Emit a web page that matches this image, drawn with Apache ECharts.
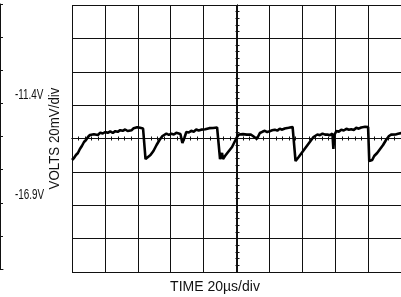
<!DOCTYPE html>
<html>
<head>
<meta charset="utf-8">
<script src="https://cdn.jsdelivr.net/npm/echarts@6/dist/echarts.min.js"></script>
<style>
  html, body { margin: 0; padding: 0; background: #fff; }
  #chart { width: 401px; height: 297px; }
</style>
</head>
<body>
<div id="chart"></div>
<script>
// time in µs (20µs/div), voltage in mV (20mV/div, AC about the centre line)
const traceTime = [
  0, 1.2, 2.4, 3.6, 4.8, 6.0, 7.3, 8.5, 9.7, 10.9, 12.1, 13.3, 14.5, 15.7, 17.2, 18.7, 20.2, 21.7,
  23.2, 24.8, 26.3, 27.8, 29.3, 30.8, 32.3, 33.8, 35.0, 36.3, 37.5, 38.7, 39.6, 40.5, 41.4, 42.3, 43.2, 44.1,
  44.7, 45.9, 47.7, 49.5, 51.4, 53.2, 55.0, 56.2, 57.4, 58.9, 60.4, 61.9, 63.4, 64.6, 65.9, 67.1, 68.3, 69.5,
  71.0, 72.5, 74.0, 75.5, 77.0, 78.5, 79.7, 81.0, 82.2, 83.4, 84.6, 85.8, 87.0, 88.2, 89.4,
  90.0, 91.2, 91.8, 93.0, 94.9, 97.3, 99.1, 100.3, 101.5, 102.7, 103.9, 105.1, 106.3, 107.5, 108.7, 110.0, 112.4,
  114.2, 115.7, 117.2, 118.7, 120.2, 121.7, 123.3, 124.8, 126.3, 127.8, 129.3, 130.5, 131.7, 132.9, 134.1, 135.3,
  135.9, 137.8, 139.6, 141.4, 143.2, 145.0, 146.8, 148.0, 149.2, 150.7, 152.3, 153.8, 155.3, 156.8, 158.3, 158.9,
  159.5, 160.7, 162.2, 163.7, 165.2, 166.8, 168.3, 169.8, 171.3, 172.8, 174.3, 175.8, 177.0, 178.2, 179.1, 180.0,
  180.7, 182.5, 183.7, 185.5, 187.3, 189.1, 190.9, 192.7, 194.0, 195.2, 196.7, 198.2, 200.6
]
const traceMv = [
  -12.9, -11.7, -9.9, -8.7, -6.3, -4.5, -2.1, -0.9, 0.9, 2.1, 2.9, 2.5, 3.1, 2.1, 3.5, 3.0, 3.9, 3.4,
  4.2, 3.3, 4.4, 4.0, 5.0, 4.6, 5.4, 4.5, 5.5, 5.0, 6.2, 5.6, 6.8, 5.7, 6.4, 6.9, 6.0, 6.5,
  -12.3, -11.7, -9.9, -7.5, -3.9, -0.9, 1.5, 2.4, 2.9, 2.2, 2.9, 2.4, 3.4, 2.6, 2.7, -2.7, 0.3, 3.9,
  3.6, 4.6, 4.1, 5.4, 4.8, 5.3, 6.0, 5.5, 6.6, 6.2, 7.0, 6.3, 7.1, 6.6, 7.5,
  -12.3, -8.7, -12.3, -10.5, -8.1, -5.1, -1.5, 0.9, 2.4, 1.8, 2.6, 1.5, 2.3, 1.9, 2.4, 1.5, -0.3,
  3.3, 4.0, 4.6, 3.8, 4.4, 4.9, 5.3, 4.7, 5.8, 5.3, 6.0, 5.5, 6.4, 5.9, 6.9, 6.3,
  -13.5, -11.1, -8.7, -6.3, -3.9, -1.5, 0.9, 1.8, 2.4, 2.0, 2.9, 2.3, 2.4, 2.0, 2.9, -6.3,
  2.1, 4.5, 4.1, 5.2, 4.8, 5.8, 5.2, 5.6, 5.1, 6.4, 5.9, 6.6, 6.1, 7.0, 6.5, 6.9,
  -13.5, -12.9, -10.5, -8.7, -6.3, -3.9, -0.9, 1.5, 2.3, 2.8, 2.4, 2.8, 3.3
]
const levelLabels = ['-11.4V', '-16.9V']
const voltsTitle = 'VOLTS 20mV/div'
const timeTitle = 'TIME 20µs/div'

const ink = '#111'
const gridLine = { show: true, lineStyle: { color: ink, width: 1 } }
const font = '"Liberation Sans", Arial, sans-serif'
const hidden = { show: false }

// axes drawn on the centre lines only for their little tick marks
const centreX = (inside) => ({
  type: 'value', gridIndex: 0, min: 0, max: 200, interval: 20,
  position: 'bottom', offset: -133.5,
  axisLine: { show: true, onZero: false, lineStyle: { color: ink } },
  axisTick: { show: true, inside: inside, length: 2, lineStyle: { color: ink } },
  minorTick: { show: true, splitNumber: 5, length: 2, lineStyle: { color: ink } },
  axisLabel: hidden, splitLine: hidden
})
const centreY = (inside) => ({
  type: 'value', gridIndex: 0, min: -80, max: 80, interval: 20,
  position: 'left', offset: -165.5,
  axisLine: { show: true, onZero: false, lineStyle: { color: ink } },
  axisTick: { show: true, inside: inside, length: 2, lineStyle: { color: ink } },
  minorTick: { show: true, splitNumber: 5, length: 2, lineStyle: { color: ink } },
  axisLabel: hidden, splitLine: hidden
})

const chart = echarts.init(document.getElementById('chart'))
const option = {
  animation: false,
  backgroundColor: '#fff',
  grid: [
    { left: 72, top: 5, width: 331, height: 267 },
    // neighbouring scope panel, only its right edge is in the picture
    { left: 0, top: 4, width: 3, height: 265 }
  ],
  xAxis: [
    {
      type: 'value', gridIndex: 0, min: 0, max: 200, interval: 20,
      axisLine: hidden, axisTick: hidden, axisLabel: hidden,
      splitLine: gridLine
    },
    centreX(true),
    centreX(false),
    {
      type: 'value', gridIndex: 1, min: 0, max: 1,
      axisLine: { show: true, lineStyle: { color: ink } },
      axisTick: hidden, axisLabel: hidden, splitLine: hidden
    }
  ],
  yAxis: [
    {
      type: 'value', gridIndex: 0, min: -80, max: 80, interval: 20,
      axisLine: hidden, axisTick: hidden, axisLabel: hidden,
      splitLine: gridLine
    },
    centreY(true),
    centreY(false),
    {
      type: 'value', gridIndex: 1, min: 0, max: 8, interval: 1, position: 'right',
      axisLine: { show: true, lineStyle: { color: ink } },
      axisTick: { show: true, length: 2, lineStyle: { color: ink } },
      axisLabel: hidden,
      splitLine: gridLine
    }
  ],
  series: [
    {
      type: 'line',
      xAxisIndex: 0,
      yAxisIndex: 0,
      data: traceTime.map((t, i) => [t, traceMv[i]]),
      showSymbol: false,
      lineStyle: { color: '#000', width: 2.6 },
      z: 5
    }
  ],
  graphic: [
    {
      type: 'text', x: 15, y: 95, scaleX: 0.66,
      style: { text: levelLabels[0], font: '15px ' + font, fill: ink, align: 'left', verticalAlign: 'middle' }
    },
    {
      type: 'text', x: 15, y: 195, scaleX: 0.66,
      style: { text: levelLabels[1], font: '15px ' + font, fill: ink, align: 'left', verticalAlign: 'middle' }
    },
    {
      type: 'text', x: 55, y: 138.5, rotation: Math.PI / 2, scaleX: 0.95,
      style: { text: voltsTitle, font: '14px ' + font, fill: ink, align: 'center', verticalAlign: 'middle' }
    },
    {
      type: 'text', x: 215, y: 287,
      style: { text: timeTitle, font: '14px ' + font, fill: ink, align: 'center', verticalAlign: 'middle' }
    }
  ]
}
chart.setOption(option)
</script>
</body>
</html>
